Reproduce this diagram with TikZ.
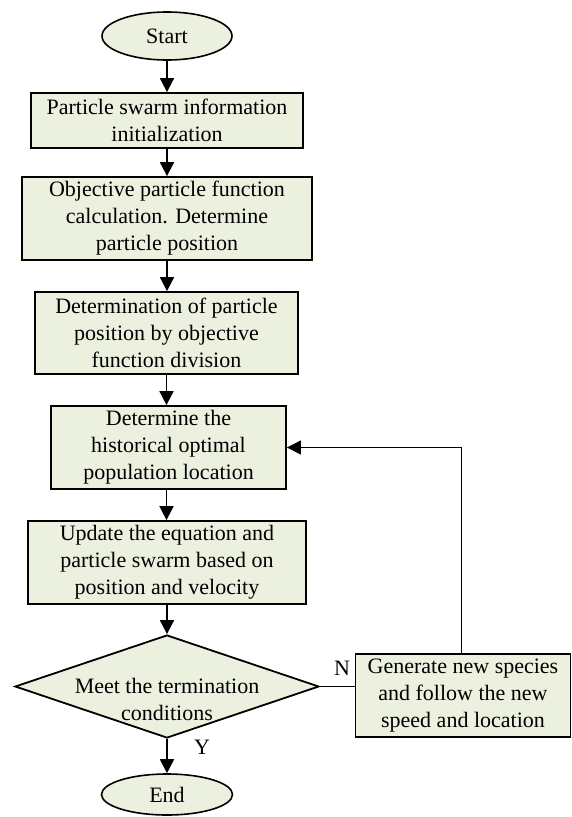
\documentclass[tikz,border=0pt]{standalone}
\usepackage{fontspec}
\setmainfont{Liberation Serif}
\usetikzlibrary{shapes.geometric,arrows.meta}
\definecolor{boxfill}{HTML}{EBF1DE}
\tikzset{
  base/.style={draw=black, fill=boxfill, inner sep=0pt, align=center,
    font=\fontsize{22}{27}\selectfont},
  proc/.style={base, rectangle, line width=1.8pt},
  term/.style={base, ellipse, line width=1.6pt},
  decision/.style={base, diamond, line width=1.8pt, minimum width=304pt, minimum height=103pt},
  lbl/.style={inner sep=0pt, font=\fontsize{22}{27}\selectfont, align=center},
  arr/.style={line width=1.8pt, -{Triangle[length=14pt,width=14pt]}},
  thinarr/.style={line width=1pt, -{Triangle[length=14pt,width=14pt]}},
  thinline/.style={line width=1pt},
}
\begin{document}
\begin{tikzpicture}[x=1pt,y=-1pt]
\useasboundingbox (0,0) rectangle (572,817);
\node[term, minimum width=130pt, minimum height=48pt] (start) at (167,36) {Start};
\node[proc, minimum width=272pt, minimum height=55pt] (b1) at (167,120.5) {Particle swarm information\\initialization};
\node[proc, minimum width=290pt, minimum height=83pt] (b2) at (167,218.5) {Objective particle function\\calculation. Determine\\particle position};
\node[proc, minimum width=263pt, minimum height=82pt] (b3) at (166.5,333) {Determination of particle\\position by objective\\function division};
\node[proc, minimum width=235pt, minimum height=83pt] (b4) at (168.5,447.5) {Determine the\\historical optimal\\population location};
\node[proc, minimum width=278pt, minimum height=83pt] (b5) at (167,562.5) {Update the equation and\\particle swarm based on\\position and velocity};
\node[decision] (dec) at (167,686.5) {};
\node[lbl] (dectext) at (167,699) {Meet the termination\\conditions};
\node[proc, minimum width=215pt, minimum height=83pt] (gen) at (463,695.5) {Generate new species\\and follow the new\\speed and location};
\node[term, minimum width=131pt, minimum height=41pt] (end) at (167,794.5) {End};
\node[lbl] (nlab) at (342,668) {N};
\node[lbl] (ylab) at (202,747) {Y};

\draw[arr] (start.south) -- (b1.north);
\draw[arr] (b1.south) -- (b1.south |- b2.north);
\draw[arr] (b2.south) -- (b2.south |- b3.north);
\draw[arr] (b3.south) -- (b3.south |- b4.north);
\draw[arr] (b4.south -| b3.south) -- (b3.south |- b5.north);
\draw[arr] (b5.south) -- (dec.north);
\draw[arr] (dec.south) -- (end.north);
\draw[thinline] (dec.east) -- (dec.east -| gen.west);
\draw[thinarr] ([xshift=-2pt]gen.north) -- ([xshift=-2pt]gen.north |- b4.east) -- (b4.east);
\end{tikzpicture}
\end{document}
